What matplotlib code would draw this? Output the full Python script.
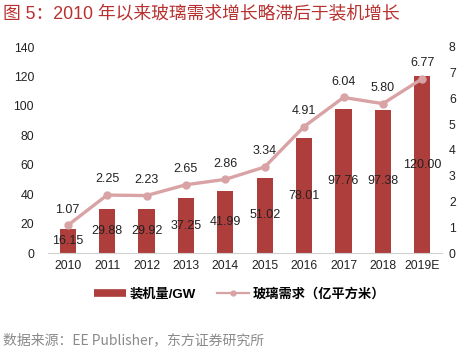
import numpy as np
import matplotlib
matplotlib.use("Agg")
import matplotlib.pyplot as plt
from matplotlib.lines import Line2D

plt.rcParams['font.family'] = ['Liberation Sans', 'Noto Sans CJK SC', 'DejaVu Sans']

years    = ["2010", "2011", "2012", "2013", "2014", "2015", "2016", "2017", "2018", "2019E"]
capacity = [16.15, 29.88, 29.92, 37.25, 41.99, 51.02, 78.01, 97.76, 97.38, 120.00]   # GW
glass    = [1.07, 2.25, 2.23, 2.65, 2.86, 3.34, 4.91, 6.04, 5.80, 6.77]              # 亿平方米

BAR_COLOR   = "#AE3E3C"
LINE_COLOR  = "#D9A3A5"
TITLE_COLOR = "#B8312F"

fig = plt.figure(figsize=(4.69, 3.51), dpi=100)
ax = fig.add_axes([48 / 469, 1 - 253 / 351, 394 / 469, 206 / 351])
ax2 = ax.twinx()

x = np.arange(len(years))
bars = ax.bar(x, capacity, width=0.41, color=BAR_COLOR, zorder=2)
line, = ax2.plot(x, glass, color=LINE_COLOR, linewidth=2.4, marker="o", markersize=5,
                 zorder=3)

ax.set_xlim(-0.5, len(years) - 0.5)
ax.set_ylim(0, 140)
ax2.set_ylim(0, 8)
ax.set_yticks(range(0, 141, 20))
ax2.set_yticks(range(0, 9))
ax.set_xticks(x)
ax.set_xticklabels(years)

for a in (ax, ax2):
    for s in ("top", "left", "right"):
        a.spines[s].set_visible(False)
    a.tick_params(length=0, labelsize=8.8, colors="#222222")
ax.spines["bottom"].set_color("#D0D0D0")
ax2.spines["bottom"].set_visible(False)
ax.tick_params(axis="y", pad=10)
ax2.tick_params(axis="y", pad=5)
ax.tick_params(axis="x", pad=5)

# labels: centred in the bars, above the line points
for xi, v in zip(x, capacity):
    ax.text(xi, v / 2, f"{v:.2f}", ha="center", va="center", fontsize=9, color="#222222", zorder=4)
for xi, v in zip(x, glass):
    ax2.text(xi, v + 0.38, f"{v:.2f}", ha="center", va="bottom", fontsize=9, color="#222222", zorder=4)

bar_handle = Line2D([], [], color=BAR_COLOR, linewidth=5.5, solid_capstyle="butt")
line_handle = Line2D([], [], color=LINE_COLOR, linewidth=1.6, marker="o", markersize=3.5)
fig.legend([bar_handle, line_handle], ["装机量/GW", "玻璃需求（亿平方米）"],
           loc="center", bbox_to_anchor=(240 / 469, 1 - 294 / 351), ncol=2,
           frameon=False, handlelength=2.4, columnspacing=1.6, handletextpad=0.3,
           prop={"family": ["Liberation Sans", "Noto Sans CJK SC"],
                 "weight": "bold", "size": 9.5})

fig.text(3 / 469, 1 - 14 / 351, "图 5：2010 年以来玻璃需求增长略滞后于装机增长",
         ha="left", va="center", fontsize=12.8, color=TITLE_COLOR)
fig.text(3 / 469, 1 - 340 / 351, "数据来源：EE Publisher，东方证券研究所",
         ha="left", va="center", fontsize=10, color="#8A8A8A",
         family=["Noto Sans CJK SC", "DejaVu Sans"])

fig.savefig("out.png", dpi=100)
